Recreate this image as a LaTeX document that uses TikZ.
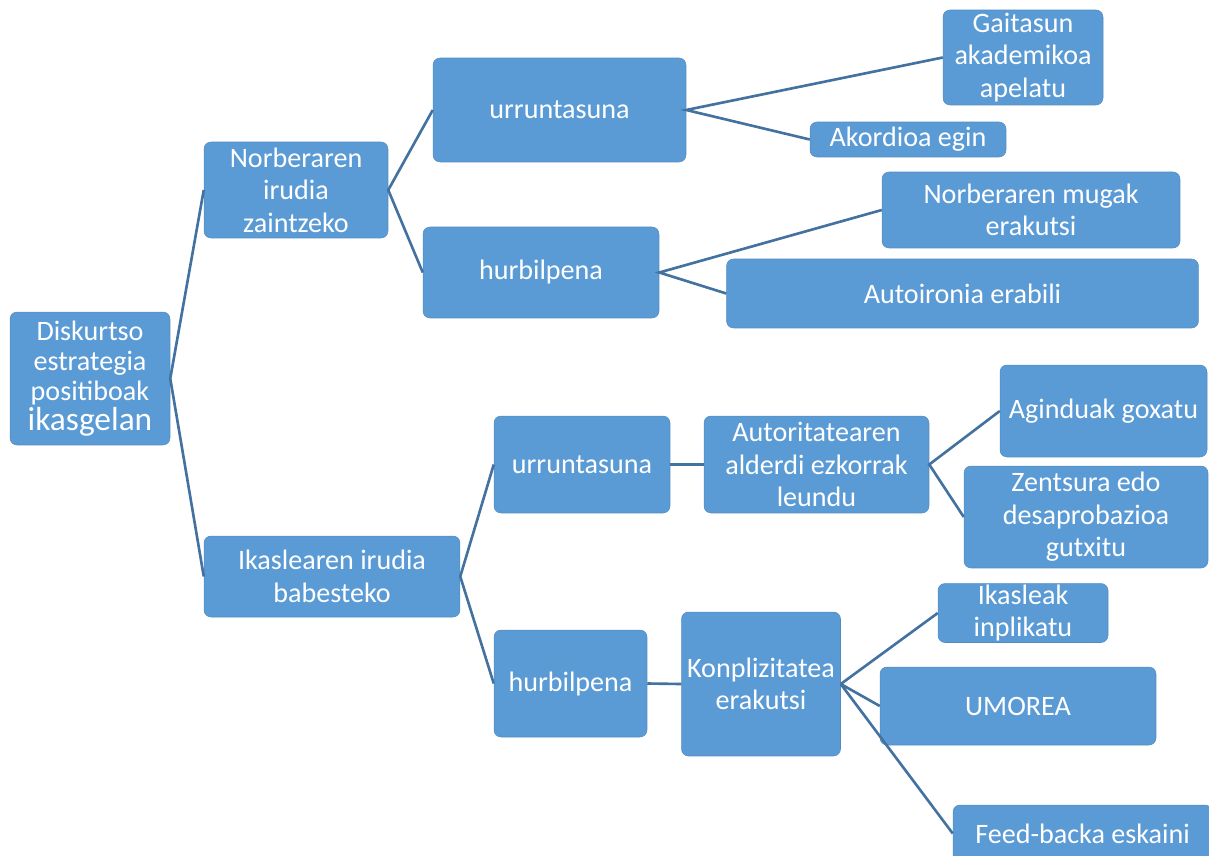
\documentclass[tikz,border=0pt]{standalone}
\usepackage{fontspec}
\setmainfont{Carlito}
\definecolor{BoxClr}{RGB}{91,155,213}
\definecolor{LineClr}{RGB}{68,114,160}

\begin{document}
\begin{tikzpicture}[x=0.02cm,y=-0.02cm,
  box/.style={fill=BoxClr,draw=BoxClr!90!black,line width=0.3pt,rounded corners=4pt,
    text=white,align=center,inner sep=1pt,font=\fontsize{16}{18.5}\selectfont},
  link/.style={draw=LineClr,line width=1.5pt}]
\useasboundingbox (0,0) rectangle (1209,855);

\node[box,minimum width=3.2cm,minimum height=2.66cm,font=\fontsize{16}{17}\selectfont]
  (D) at (90,378.5) {Diskurtso\\estrategia\\positiboak\\{\fontsize{19}{21}\selectfont ikasgelan}};

\node[box,minimum width=3.68cm,minimum height=1.92cm] (N) at (296,190) {Norberaren\\irudia\\zaintzeko};
\node[box,minimum width=5.12cm,minimum height=1.62cm] (I) at (332,576.5) {Ikaslearen irudia\\babesteko};

\node[box,minimum width=5.06cm,minimum height=2.08cm] (U1) at (559.5,110) {urruntasuna};
\node[box,minimum width=4.72cm,minimum height=1.82cm] (H1) at (541,272.5) {hurbilpena};

\node[box,minimum width=3.2cm,minimum height=1.9cm] (G) at (1023,57.5) {Gaitasun\\akademikoa\\apelatu};
\node[box,minimum width=3.92cm,minimum height=0.7cm] (A) at (908,139.5) {Akordioa egin};
\node[box,minimum width=5.96cm,minimum height=1.52cm] (M) at (1031,210) {Norberaren mugak\\erakutsi};
\node[box,minimum width=9.44cm,minimum height=1.38cm] (R) at (962.5,293.5) {Autoironia erabili};

\node[box,minimum width=3.52cm,minimum height=1.94cm] (U2) at (582,464.5) {urruntasuna};
\node[box,minimum width=4.5cm,minimum height=1.94cm] (T) at (816.5,464.5) {Autoritatearen\\alderdi ezkorrak\\leundu};
\node[box,minimum width=4.14cm,minimum height=1.84cm] (Ag) at (1103.5,411) {Aginduak goxatu};
\node[box,minimum width=4.88cm,minimum height=2.04cm] (Z) at (1086,517) {Zentsura edo\\desaprobazioa\\gutxitu};

\node[box,minimum width=3.06cm,minimum height=2.14cm] (H2) at (570.5,683.5) {hurbilpena};
\node[box,minimum width=3.18cm,minimum height=2.88cm] (K) at (761,684) {Konplizitatea\\erakutsi};
\node[box,minimum width=3.4cm,minimum height=1.18cm,inner sep=0pt] (Ik) at (1023,613) {Ikasleak\\inplikatu};
\node[box,minimum width=5.52cm,minimum height=1.56cm] (Um) at (1018,706) {UMOREA};
\node[box,minimum width=5.18cm,minimum height=1.14cm] (F) at (1082.5,833.5) {Feed-backa eskaini};

\draw[link] (N.west) -- (D.east) -- (I.west);
\draw[link] (U1.west) -- (N.east) -- (H1.west);
\draw[link] (G.west) -- (U1.east) -- (A.west);
\draw[link] (M.west) -- (H1.east) -- (R.west);
\draw[link] (U2.west) -- (I.east) -- (H2.west);
\draw[link] (U2.east) -- (T.west);
\draw[link] (Ag.west) -- (T.east) -- (Z.west);
\draw[link] (H2.east) -- (K.west);
\draw[link] (K.east) -- (Ik.west);
\draw[link] (K.east) -- (Um.west);
\draw[link] (K.east) -- (F.west);

\end{tikzpicture}
\end{document}
